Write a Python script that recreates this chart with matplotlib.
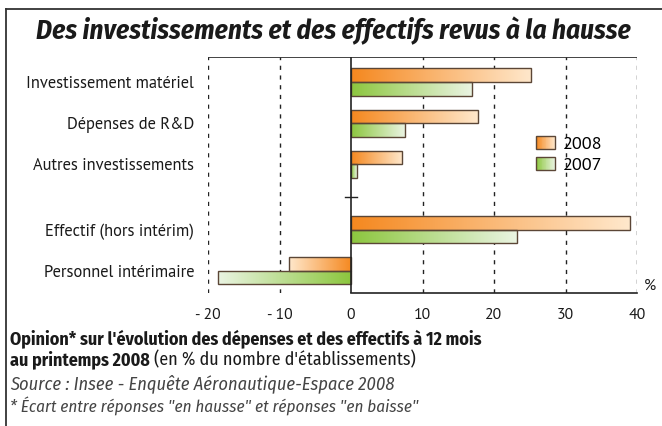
import numpy as np
import matplotlib
matplotlib.use("Agg")
import matplotlib.pyplot as plt
from matplotlib.colors import LinearSegmentedColormap
from matplotlib.patches import Rectangle
from matplotlib.legend_handler import HandlerBase

# Data
categories = ["Investissement matériel", "Dépenses de R&D", "Autres investissements",
              "Effectif (hors intérim)", "Personnel intérimaire"]
values_2008 = [25.2, 17.8, 7.2, 39.0, -8.7]
values_2007 = [16.9, 7.5, 0.8, 23.2, -18.6]
series_labels = ["2008", "2007"]
xticks = [-20, -10, 0, 10, 20, 30, 40]
xtick_labels = ["- 20", "- 10", "0", "10", "20", "30", "40"]

# positions of the category groups (gap between investments and staff)
ypos = np.array([0, 1, 2, 3.6, 4.6])
bar_h = 0.33

label_font = "PT Sans"
cond_font = "Fira Sans Condensed"

orange = LinearSegmentedColormap.from_list("or", ["#F5881F", "#FFE8CC"])
green = LinearSegmentedColormap.from_list("gr", ["#8CC63E", "#EAF4E2"])
edge = "#5b4636"
ink = "#1a1a1a"

W, H = 662, 426
fig = plt.figure(figsize=(W / 100, H / 100), dpi=100)
renderer = fig.canvas.get_renderer()


def fit_size(text, width_px, **kw):
    # font size that makes `text` about width_px wide
    t = fig.text(0, 0, text, fontsize=10, **kw)
    w = t.get_window_extent(renderer).width
    t.remove()
    return 10 * width_px / w


ax = fig.add_axes([208 / W, 1 - 293 / H, (637 - 208) / W, (293 - 57) / H])

grad = np.linspace(0, 1, 256).reshape(1, -1)


def grad_bars(vals, offset, cmap):
    bars = ax.barh(ypos + offset, vals, height=bar_h, facecolor="none",
                   edgecolor=edge, linewidth=1.0, zorder=4)
    for rect, v in zip(bars, vals):
        y0 = rect.get_y()
        im = ax.imshow(grad, cmap=cmap, extent=(0, v, y0, y0 + bar_h),
                       aspect="auto", zorder=3, interpolation="bilinear")
        im.set_clip_path(rect)
    return bars


grad_bars(values_2008, -bar_h / 2, orange)
grad_bars(values_2007, bar_h / 2, green)

ax.set_xlim(-20, 40)
ax.set_ylim(4.6 + 0.54, -0.61)

# grid
for t in xticks:
    if t == 0:
        ax.axvline(0, color="#222222", lw=1.2, zorder=5)
    else:
        ax.axvline(t, color="#222222", lw=1.0, ls=(0, (3, 4)), zorder=1)
for s in ax.spines.values():
    s.set_visible(False)
ax.axhline(-0.61, color="#222222", lw=1.2, zorder=5)
ax.plot([0, 40], [5.14, 5.14], color="#222222", lw=1.2, zorder=5, clip_on=False)
# small separator tick on the zero line
ax.plot([-0.9, 0.9], [2.8, 2.8], color="#222222", lw=1.0, zorder=5)

lab_size = fit_size("Investissement matériel", 170, family=label_font)
ax.set_xticks(xticks)
ax.set_xticklabels(xtick_labels, fontsize=lab_size * 0.95, fontfamily=label_font, color=ink)
ax.set_yticks(ypos)
ax.set_yticklabels(categories, fontsize=lab_size, fontfamily=label_font, color=ink)
ax.tick_params(axis="both", length=0)
ax.tick_params(axis="y", pad=10)
ax.tick_params(axis="x", pad=11)
ax.text(1.015, 0.0, "%", transform=ax.transAxes, fontsize=lab_size * 0.95,
        fontfamily=label_font, color=ink, ha="left", va="bottom")


class GradHandler(HandlerBase):
    def __init__(self, cmap):
        super().__init__()
        self.cmap = cmap

    def create_artists(self, legend, orig_handle, xdescent, ydescent,
                       width, height, fontsize, trans):
        n = 24
        arts = []
        for i in range(n):
            arts.append(Rectangle((-xdescent + i * width / n, -ydescent), width / n, height,
                                  facecolor=self.cmap(i / (n - 1)), edgecolor="none",
                                  transform=trans))
        arts.append(Rectangle((-xdescent, -ydescent), width, height, fill=False,
                              edgecolor=edge, lw=1.0, transform=trans))
        return arts


leg_size = fit_size("2008", 40, family=label_font)
h08 = Rectangle((0, 0), 1, 1)
h07 = Rectangle((0, 0), 1, 1)
leg = ax.legend([h08, h07], series_labels, loc="upper left",
                bbox_to_anchor=(536 / W, 1 - 136 / H), bbox_transform=fig.transFigure,
                frameon=False, handler_map={h08: GradHandler(orange), h07: GradHandler(green)},
                prop={"family": label_font, "size": leg_size}, handlelength=1.05,
                handleheight=0.7, handletextpad=0.45, labelspacing=0.25,
                borderaxespad=0, borderpad=0)

# frame of the figure
fig.add_artist(plt.Line2D([6 / W, 6 / W], [0, 1 - 9 / H], color="#333333", lw=1.3,
                          transform=fig.transFigure))
fig.add_artist(plt.Line2D([6 / W, 1], [1 - 9 / H, 1 - 9 / H], color="#333333", lw=1.3,
                          transform=fig.transFigure))

title = "Des investissements et des effectifs revus à la hausse"
ts = fit_size(title, 593, family=cond_font, weight="bold", style="italic")
fig.text(333 / W, 1 - 39 / H, title, fontsize=ts, fontweight="bold", fontstyle="italic",
         fontfamily=cond_font, ha="center", va="baseline", color=ink)

line1 = "Opinion* sur l'évolution des dépenses et des effectifs à 12 mois"
bs = fit_size(line1, 473, family=cond_font, weight="bold")
fig.text(10 / W, 1 - 339 / H, line1, fontsize=bs, fontweight="bold",
         fontfamily=cond_font, va="center", color=ink)
t1 = fig.text(10 / W, 1 - 360 / H, "au printemps 2008", fontsize=bs, fontweight="bold",
              fontfamily=cond_font, va="center", color=ink)
bb = t1.get_window_extent(renderer)
fig.text((bb.x1 + 4) / W, 1 - 360 / H, "(en % du nombre d'établissements)", fontsize=bs,
         fontfamily=cond_font, va="center", color=ink)
source = "Source : Insee - Enquête Aéronautique-Espace 2008"
ss = fit_size(source, 385, family=cond_font, style="italic")
fig.text(10 / W, 1 - 384 / H, source,
         fontsize=ss, fontstyle="italic", fontfamily=cond_font, va="center", color="#444444")
note = "* Écart entre réponses \"en hausse\" et réponses \"en baisse\""
fig.text(10 / W, 1 - 406 / H, note, fontsize=ss * 0.93, fontstyle="italic",
         fontfamily=cond_font, va="center", color="#444444")

fig.savefig("out.png", dpi=100)
